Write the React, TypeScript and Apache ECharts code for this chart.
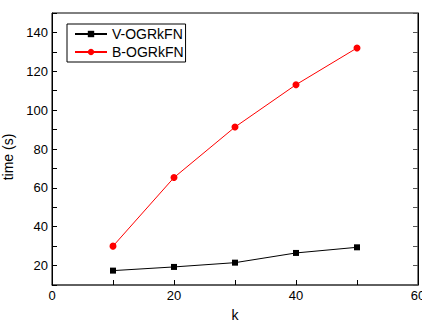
import React, { useEffect, useRef } from "react";
import * as echarts from "echarts";

const kValues = [10, 20, 30, 40, 50];
const vOgrkfn = [17.4, 19.3, 21.5, 26.5, 29.4];
const bOgrkfn = [30.0, 65.3, 91.3, 113.1, 132.0];
const seriesNames = ["V-OGRkFN", "B-OGRkFN"];

export default function App() {
  const ref = useRef<HTMLDivElement>(null);
  useEffect(() => {
    if (!ref.current) return;
    const chart = echarts.init(ref.current, null, { renderer: "svg" });
    const font = "'Liberation Sans', Arial, sans-serif";
    chart.setOption({
      animation: false,
      backgroundColor: "#fff",
      textStyle: { fontFamily: font },
      grid: {
        left: 52,
        right: 4,
        top: 13,
        bottom: 35,
        containLabel: false,
        outerBoundsMode: "none",
        show: true,
        borderColor: "#000",
        borderWidth: 1,
      },
      legend: {
        orient: "vertical",
        left: 67,
        top: 24,
        itemWidth: 32,
        itemHeight: 8,
        itemGap: 4,
        padding: [3, 2, 3, 7],
        borderColor: "#000",
        borderWidth: 1,
        textStyle: { fontSize: 14, color: "#000", fontFamily: font },
        data: seriesNames,
      },
      xAxis: [
        {
          type: "value",
          min: 0,
          max: 60,
          interval: 10,
          name: "k",
          nameLocation: "middle",
          nameGap: 23,
          nameTextStyle: { fontSize: 14, color: "#000" },
          axisLine: { show: true, lineStyle: { color: "#555", width: 1.5 } },
          axisTick: { inside: true, length: 5, lineStyle: { color: "#000" } },
          axisLabel: {
            fontSize: 13,
            color: "#000",
            margin: 4,
            formatter: (v: number) => (v % 20 === 0 ? String(v) : ""),
          },
          splitLine: { show: false },
        },
      ],
      yAxis: [
        {
          type: "value",
          min: 10,
          max: 150,
          interval: 10,
          name: "time (s)",
          nameLocation: "middle",
          nameGap: 30,
          nameTextStyle: { fontSize: 14, color: "#000", padding: [0, 16, 0, 0] },
          axisLine: { show: true, lineStyle: { color: "#000", width: 1 } },
          axisTick: { inside: true, length: 5, lineStyle: { color: "#000" } },
          axisLabel: {
            fontSize: 13,
            color: "#000",
            margin: 4,
            formatter: (v: number) => (v % 20 === 0 ? String(v) : ""),
          },
          splitLine: { show: false },
        },
        {
          type: "value",
          position: "right",
          min: 10,
          max: 150,
          interval: 10,
          axisLine: { show: true, lineStyle: { color: "#000", width: 1 } },
          axisTick: { inside: true, length: 5, lineStyle: { color: "#555" } },
          axisLabel: { show: false },
          splitLine: { show: false },
        },
      ],
      series: [
        {
          name: seriesNames[0],
          type: "line",
          data: kValues.map((k, i) => [k, vOgrkfn[i]]),
          symbol: "rect",
          symbolSize: 6,
          color: "#000",
          lineStyle: { color: "#000", width: 1 },
          itemStyle: { color: "#000" },
        },
        {
          name: seriesNames[1],
          type: "line",
          data: kValues.map((k, i) => [k, bOgrkfn[i]]),
          symbol: "circle",
          symbolSize: 7,
          color: "#ff0000",
          lineStyle: { color: "#ff0000", width: 1 },
          itemStyle: { color: "#ff0000" },
        },
      ],
    });
    return () => chart.dispose();
  }, []);
  return (
    <div
      ref={ref}
      style={{ position: "absolute", left: 0, top: 0, width: 422, height: 320 }}
    />
  );
}
